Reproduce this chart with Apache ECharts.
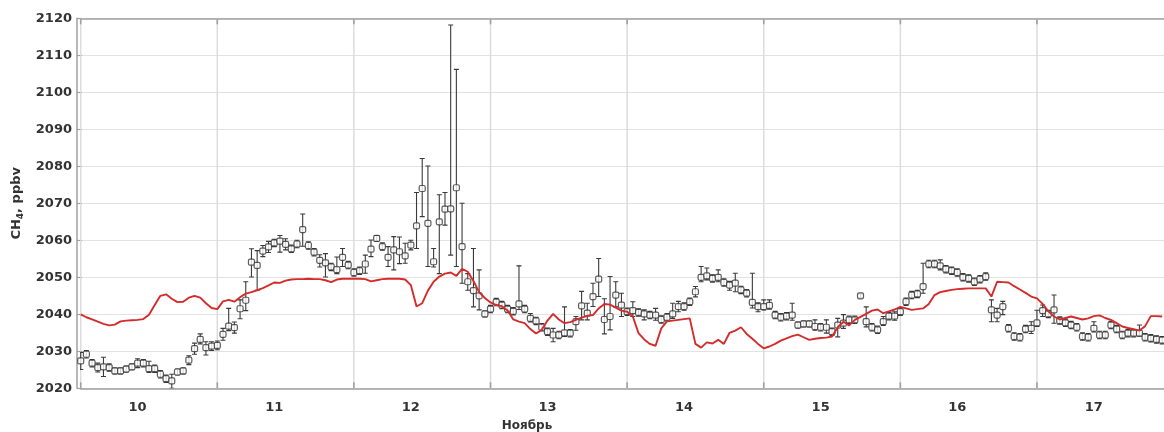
<!DOCTYPE html>
<html>
<head>
<meta charset="utf-8">
<script src="https://cdn.jsdelivr.net/npm/echarts@6/dist/echarts.min.js"></script>
<style>
  html, body { margin: 0; padding: 0; background: #fff; }
  #chart { width: 1164px; height: 432px; }
</style>
</head>
<body>
<div id="chart"></div>
<script>
// Hourly CH4 series, starting 10 November 00:00
const startDay = 10;
const stepHours = 1;
const endDay = 17.93;

// Day labels on the time axis (placed at 10:00 of each day)
const dayLabels = [10, 11, 12, 13, 14, 15, 16, 17];
const labelHour = 10;
// Midnight grid lines
const midnights = [10, 11, 12, 13, 14, 15, 16, 17];

// Y axis ticks (ppbv)
const yMin = 2020, yMax = 2120, yStep = 10;

// Observed CH4, ppbv
const ch4Obs = [
  2027.4, 2029.2, 2026.8, 2025.6, 2025.8, 2025.6, 2024.7, 2024.7, 2025.2, 2025.8, 2026.8, 2026.8,
  2025.3, 2025.3, 2023.8, 2022.6, 2022.0, 2024.4, 2024.7, 2027.6, 2030.7, 2033.2, 2031.0, 2031.4,
  2031.6, 2034.6, 2036.8, 2036.4, 2041.5, 2043.8, 2054.1, 2053.2, 2057.1, 2058.2, 2059.3, 2059.8,
  2058.9, 2057.7, 2059.0, 2062.9, 2058.6, 2056.8, 2054.6, 2053.9, 2052.8, 2052.1, 2055.4, 2053.3,
  2051.3, 2051.8, 2053.6, 2057.6, 2060.5, 2058.3, 2055.4, 2057.4, 2056.9, 2055.8, 2058.7, 2063.9,
  2074.0, 2064.6, 2054.2, 2065.0, 2068.4, 2068.5, 2074.2, 2058.3, 2048.8, 2046.4, 2045.0, 2040.1,
  2041.4, 2043.3, 2042.5, 2041.4, 2040.8, 2042.8, 2041.4, 2038.9, 2038.2, 2036.5, 2035.3, 2034.4,
  2034.4, 2035.0, 2034.9, 2038.0, 2042.3, 2040.3, 2044.8, 2049.5, 2038.6, 2039.4, 2045.2, 2042.5,
  2040.7, 2041.0, 2040.5, 2040.1, 2039.8, 2039.8, 2038.6, 2039.2, 2040.1, 2042.1, 2042.1, 2043.4,
  2046.1, 2050.0, 2050.4, 2049.7, 2050.0, 2048.6, 2047.9, 2048.4, 2046.6, 2045.7, 2043.2, 2042.1,
  2042.1, 2042.4, 2039.8, 2039.2, 2039.5, 2039.8, 2037.1, 2037.4, 2037.4, 2036.7, 2036.5, 2036.5,
  2035.3, 2037.1, 2037.6, 2038.5, 2038.5, 2045.0, 2038.0, 2036.5, 2035.8, 2038.0, 2039.5, 2039.5,
  2040.7, 2043.4, 2045.2, 2045.5, 2047.5, 2053.6, 2053.6, 2053.1, 2052.2, 2051.8, 2051.3, 2050.0,
  2049.7, 2048.8, 2049.5, 2050.2, 2041.2, 2039.8, 2042.1, 2036.2, 2034.0, 2033.8, 2036.0, 2036.2,
  2037.7, 2041.0, 2040.1, 2041.2, 2038.3, 2037.7, 2037.1, 2036.5, 2034.0, 2033.8, 2036.2, 2034.4,
  2034.4, 2037.1, 2036.0, 2034.4, 2034.9, 2034.9, 2034.9, 2033.8, 2033.5, 2033.2, 2033.0
];

// Upper and lower error-bar lengths, ppbv
const errUp = [
  2.3, 1.0, 1.0, 1.2, 2.6, 1.0, 0.8, 0.8, 0.8, 0.8, 1.2, 1.0,
  2.0, 1.0, 1.0, 1.0, 1.8, 0.8, 0.8, 1.2, 1.5, 1.5, 1.6, 1.2,
  1.2, 1.6, 4.8, 1.5, 2.4, 5.0, 3.6, 4.0, 1.5, 1.5, 1.0, 1.5,
  1.5, 1.0, 1.0, 4.2, 1.0, 1.0, 1.5, 2.5, 1.0, 3.4, 2.4, 1.0,
  1.0, 1.0, 2.4, 2.5, 0.8, 1.0, 2.9, 3.6, 4.0, 3.4, 1.3, 9.0,
  8.1, 15.5, 3.6, 7.3, 4.5, 49.7, 32.0, 11.7, 2.2, 11.4, 7.0, 0.8,
  1.0, 1.0, 1.0, 1.0, 1.0, 10.3, 1.0, 1.3, 1.0, 1.0, 1.0, 1.8,
  1.0, 7.0, 1.0, 1.4, 3.9, 2.7, 3.6, 5.6, 5.6, 10.8, 3.6, 3.2,
  1.0, 2.4, 1.0, 1.1, 1.0, 1.8, 1.0, 1.0, 2.9, 1.4, 1.0, 1.0,
  1.4, 2.9, 2.1, 1.0, 2.0, 1.0, 1.0, 2.7, 1.0, 1.0, 7.9, 1.0,
  1.8, 1.5, 1.0, 1.0, 1.0, 3.2, 0.8, 0.8, 0.8, 1.8, 1.0, 2.0,
  1.0, 1.8, 2.3, 1.0, 1.0, 0.5, 4.0, 1.0, 1.0, 1.4, 1.0, 1.2,
  1.0, 1.0, 1.0, 1.0, 6.3, 1.0, 1.0, 1.6, 1.0, 1.0, 1.0, 1.0,
  1.0, 1.0, 1.0, 1.0, 2.7, 1.8, 1.4, 1.0, 1.0, 1.0, 1.0, 1.8,
  3.4, 1.5, 1.0, 4.0, 1.0, 1.0, 1.0, 1.0, 1.0, 1.0, 1.8, 1.0,
  1.0, 1.0, 1.0, 1.0, 1.0, 1.0, 2.2, 1.0, 1.0, 1.0, 1.0
];
const errDown = [
  2.3, 1.0, 1.0, 1.2, 2.6, 1.0, 0.8, 0.8, 0.8, 0.8, 1.2, 1.0,
  1.0, 1.0, 1.0, 1.0, 2.0, 0.8, 0.8, 1.2, 1.5, 1.2, 2.0, 1.2,
  1.2, 1.6, 1.2, 1.5, 2.7, 2.8, 4.0, 6.7, 1.5, 1.5, 1.0, 3.0,
  1.5, 1.0, 1.0, 4.5, 1.0, 1.0, 1.8, 3.8, 1.0, 1.1, 2.5, 1.0,
  1.0, 1.0, 2.5, 2.0, 0.8, 1.0, 2.5, 5.4, 3.2, 2.0, 1.3, 6.1,
  7.6, 11.7, 1.4, 14.0, 4.3, 12.5, 21.3, 9.9, 2.3, 4.4, 3.8, 0.8,
  1.0, 1.0, 1.0, 1.0, 1.0, 1.5, 1.0, 1.0, 1.0, 1.0, 1.0, 1.8,
  1.0, 1.0, 1.0, 2.3, 3.8, 1.8, 2.7, 4.7, 3.9, 3.6, 3.2, 3.1,
  1.0, 1.6, 1.0, 1.6, 1.0, 1.4, 1.0, 1.0, 1.2, 1.4, 1.0, 1.0,
  1.4, 1.2, 1.1, 1.0, 1.2, 1.0, 1.4, 2.3, 1.0, 1.0, 1.5, 1.4,
  0.9, 1.0, 1.0, 1.0, 1.0, 1.4, 0.8, 0.8, 0.8, 1.0, 1.0, 1.6,
  1.0, 3.2, 1.4, 1.0, 1.0, 0.5, 1.4, 1.0, 1.0, 1.0, 1.0, 1.1,
  1.0, 1.0, 1.0, 1.0, 1.8, 1.0, 1.0, 1.1, 1.0, 1.0, 1.0, 1.0,
  1.0, 1.0, 1.0, 1.0, 3.2, 1.8, 2.2, 1.0, 1.0, 1.0, 1.0, 1.4,
  1.0, 1.6, 1.0, 3.6, 1.0, 1.0, 1.0, 1.0, 1.0, 1.0, 1.0, 1.0,
  1.0, 1.0, 1.0, 1.0, 1.0, 1.0, 0.8, 1.0, 1.0, 1.0, 1.0
];

// Modelled CH4, ppbv
const ch4Model = [
  2040.0, 2039.2, 2038.6, 2038.0, 2037.4, 2037.0, 2037.2, 2038.1, 2038.3, 2038.4, 2038.5, 2038.7,
  2039.9, 2042.5, 2045.0, 2045.4, 2044.2, 2043.3, 2043.4, 2044.5, 2045.0, 2044.5, 2043.0, 2041.7,
  2041.4, 2043.5, 2043.9, 2043.4, 2044.6, 2045.6, 2046.0, 2046.5, 2047.1, 2047.8, 2048.6, 2048.5,
  2049.1, 2049.4, 2049.5, 2049.5, 2049.6, 2049.5, 2049.5, 2049.2, 2048.7, 2049.4, 2049.6, 2049.6,
  2049.6, 2049.6, 2049.5, 2048.9, 2049.2, 2049.5, 2049.6, 2049.6, 2049.6, 2049.4, 2047.9, 2042.1,
  2043.0, 2046.4, 2048.8, 2050.2, 2051.0, 2051.3, 2050.4, 2052.3, 2051.5, 2049.0, 2046.0, 2044.4,
  2043.2, 2042.5, 2042.2, 2041.0, 2038.6, 2038.0, 2037.6, 2036.0, 2034.8, 2035.8, 2038.3, 2040.1,
  2038.6, 2037.6, 2037.9, 2038.5, 2039.1, 2039.6, 2039.8, 2041.6, 2042.8, 2042.6, 2041.8, 2041.0,
  2040.7, 2039.4, 2034.9, 2033.2, 2032.0, 2031.5, 2036.2, 2038.1, 2038.3, 2038.5, 2038.7, 2038.9,
  2032.0, 2031.0, 2032.4, 2032.1, 2033.1, 2032.0, 2035.0, 2035.6, 2036.5, 2034.7, 2033.4, 2032.0,
  2030.8, 2031.3, 2032.0, 2032.9, 2033.5, 2034.1, 2034.5, 2033.8, 2033.1, 2033.4, 2033.6, 2033.7,
  2034.0, 2036.5, 2038.0, 2037.0, 2038.5, 2039.3, 2040.1, 2041.0, 2041.3, 2040.3, 2040.8, 2041.3,
  2042.0, 2041.6, 2041.2, 2041.4, 2041.6, 2042.8, 2045.2, 2046.0, 2046.3, 2046.6, 2046.8, 2046.9,
  2047.0, 2047.0, 2047.0, 2047.0, 2044.8, 2048.8, 2048.7, 2048.6, 2047.6, 2046.7, 2045.8, 2044.8,
  2044.3, 2042.8, 2040.8, 2039.4, 2038.6, 2039.0, 2039.4, 2039.0, 2038.6, 2038.9, 2039.5, 2039.7,
  2039.0, 2038.5, 2037.6, 2036.7, 2036.3, 2036.0, 2035.6, 2036.8, 2039.5, 2039.5, 2039.4
];

const timeOf = i => startDay + i * stepHours / 24;
const obsPoints = ch4Obs.map((v, i) => [timeOf(i), v]);
const errBars = ch4Obs.map((v, i) => [timeOf(i), v - errDown[i], v + errUp[i]]);
const modelLine = ch4Model.map((v, i) => [timeOf(i), v]);
const midnightLines = midnights.map(d => [d, yMin, yMax]);

const FONT = 'DejaVu Sans';
const AXIS_GREY = '#a0a0a0';
const GRID_GREY = '#e2e2e2';
const VGRID_GREY = '#dcdcdc';
const INK = '#333333';

const chart = echarts.init(document.getElementById('chart'), null, { renderer: 'canvas' });

const option = {
  animation: false,
  backgroundColor: '#ffffff',
  title: {
    text: 'Ноябрь',
    left: 522,
    top: 415,
    textAlign: 'center',
    textStyle: { fontFamily: FONT, fontWeight: 'bold', fontSize: 12, color: INK }
  },
  grid: { left: 80.7, right: 0, top: 18.3, bottom: 43.7, containLabel: false },
  xAxis: [
    {
      // bottom axis: day labels
      type: 'value',
      position: 'bottom',
      min: startDay, max: endDay, interval: 1,
      axisLine: { show: true, lineStyle: { color: AXIS_GREY, width: 1.5 } },
      axisTick: { show: false },
      splitLine: { show: false },
      axisLabel: {
        show: true,
        customValues: dayLabels.map(d => d + labelHour / 24),
        formatter: v => String(Math.round(v - labelHour / 24)),
        margin: 13,
        fontFamily: FONT, fontWeight: 'bold', fontSize: 13, color: INK
      }
    },
    {
      // top frame
      type: 'value',
      position: 'top',
      min: startDay, max: endDay, interval: 1,
      axisLine: { show: true, lineStyle: { color: AXIS_GREY, width: 1.5 } },
      axisTick: { show: false },
      splitLine: { show: false },
      axisLabel: { show: false }
    }
  ],
  yAxis: {
    type: 'value',
    min: yMin, max: yMax, interval: yStep,
    offset: 3.7,
    name: '{b|CH}{s|4}{b|, ppbv}',
    nameLocation: 'middle',
    nameGap: 46,
    nameRotate: 90,
    nameTextStyle: {
      rich: {
        b: { fontFamily: FONT, fontWeight: 'bold', fontSize: 13, color: INK },
        s: { fontFamily: FONT, fontWeight: 'bold', fontSize: 9, color: INK, padding: [8, 0, 0, 0] }
      }
    },
    axisLine: { show: true, lineStyle: { color: AXIS_GREY, width: 1.5 } },
    axisTick: { show: true, inside: true, length: 5, lineStyle: { color: AXIS_GREY, width: 1.2 } },
    splitLine: { show: true, lineStyle: { color: GRID_GREY, width: 1 } },
    axisLabel: {
      margin: 5,
      formatter: v => String(v),
      fontFamily: FONT, fontWeight: 'bold', fontSize: 13, color: INK
    }
  },
  series: [
    {
      // vertical grid lines and inward ticks at midnight
      name: 'midnight',
      type: 'custom',
      xAxisIndex: 0,
      yAxisIndex: 0,
      z: 1,
      silent: true,
      clip: false,
      encode: { x: 0, y: [1, 2] },
      data: midnightLines,
      renderItem: (params, api) => {
        const d = api.value(0);
        const bottom = api.coord([d, api.value(1)]);
        const top = api.coord([d, api.value(2)]);
        const x = bottom[0];
        const tick = 6;
        return {
          type: 'group',
          children: [
            { type: 'line', shape: { x1: x, y1: bottom[1], x2: x, y2: top[1] },
              style: { stroke: VGRID_GREY, lineWidth: 1.5 } },
            { type: 'line', shape: { x1: x, y1: bottom[1], x2: x, y2: bottom[1] - tick },
              style: { stroke: AXIS_GREY, lineWidth: 1.6 } },
            { type: 'line', shape: { x1: x, y1: top[1], x2: x, y2: top[1] + tick },
              style: { stroke: AXIS_GREY, lineWidth: 1.6 } }
          ]
        };
      }
    },
    {
      name: 'errors',
      type: 'custom',
      xAxisIndex: 0,
      z: 2,
      clip: true,
      data: errBars,
      renderItem: (params, api) => {
        const x = api.value(0);
        const lo = api.coord([x, api.value(1)]);
        const hi = api.coord([x, api.value(2)]);
        const cap = 2.5;
        const style = { stroke: '#3a3a3a', lineWidth: 1.1, fill: null };
        return {
          type: 'group',
          children: [
            { type: 'line', shape: { x1: lo[0], y1: lo[1], x2: hi[0], y2: hi[1] }, style },
            { type: 'line', shape: { x1: hi[0] - cap, y1: hi[1], x2: hi[0] + cap, y2: hi[1] }, style },
            { type: 'line', shape: { x1: lo[0] - cap, y1: lo[1], x2: lo[0] + cap, y2: lo[1] }, style }
          ]
        };
      }
    },
    {
      name: 'observed',
      type: 'scatter',
      xAxisIndex: 0,
      z: 3,
      symbol: 'roundRect',
      symbolSize: 6,
      itemStyle: { color: '#ffffff', borderColor: '#333333', borderWidth: 1.2 },
      data: obsPoints
    },
    {
      name: 'model',
      type: 'line',
      xAxisIndex: 0,
      z: 4,
      showSymbol: false,
      symbol: 'none',
      lineStyle: { color: '#d42b2b', width: 1.9 },
      data: modelLine
    }
  ]
};

chart.setOption(option);
</script>
</body>
</html>
